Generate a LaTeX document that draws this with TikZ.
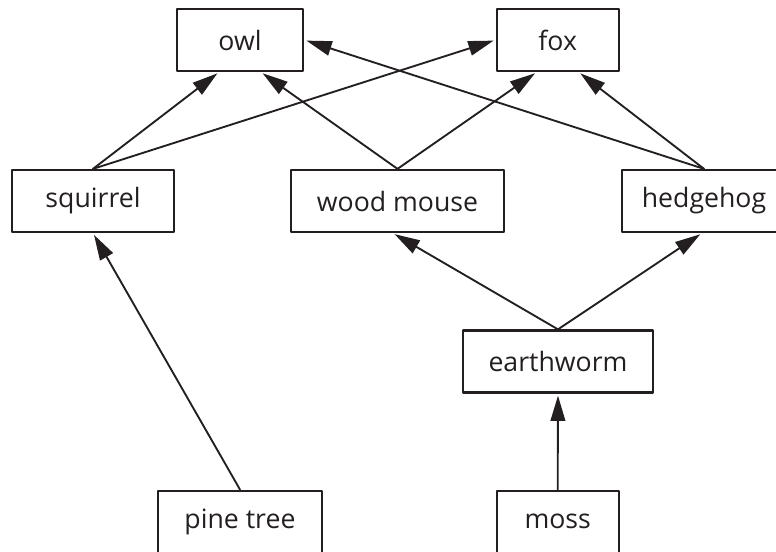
\documentclass[tikz,border=0pt]{standalone}
\usepackage{fontspec}
\setmainfont{Open Sans}
\usepackage{xcolor}
\usetikzlibrary{arrows.meta}
\definecolor{ink}{HTML}{231F20}

\begin{document}
\begin{tikzpicture}[line cap=round,line join=round,x=0.75pt,y=-0.75pt,
  box/.style={draw=ink,line width=1.7pt,text=ink,minimum height=46.5pt,inner sep=0pt,font=\fontsize{20}{24}\selectfont},
  arr/.style={draw=ink,line width=1.4pt,-{Triangle[length=19pt,width=11pt]},shorten >=1.5pt}]
\useasboundingbox (0,0) rectangle (776,551);
\clip (0,0) rectangle (776,551);
\node[box,minimum width=95pt] (owl) at (240,40) {owl};
\node[box,minimum width=91.5pt] (fox) at (557.7,40) {fox};
\node[box,minimum width=122pt] (squirrel) at (93,201) {squirrel};
\node[box,minimum width=160pt] (mouse) at (397.5,201) {wood mouse};
\node[box,minimum width=123pt] (hedgehog) at (704,201) {hedgehog};
\node[box,minimum width=143pt] (worm) at (558,361.5) {earthworm};
\node[box,minimum width=122.5pt] (pine) at (240,521.7) {pine tree};
\node[box,minimum width=91.5pt] (moss) at (557.7,521.7) {moss};
\draw[arr] (squirrel.north) -- ([xshift=-15.75pt]owl.south);
\draw[arr] (mouse.north) -- ([xshift=15.75pt]owl.south);
\draw[arr] (hedgehog.north) -- (owl.east);
\draw[arr] (squirrel.north) -- (fox.west);
\draw[arr] (mouse.north) -- ([xshift=-15.75pt]fox.south);
\draw[arr] (hedgehog.north) -- ([xshift=15.75pt]fox.south);
\draw[arr] (pine.north) -- (squirrel.south);
\draw[arr] (worm.north) -- ([xshift=-3.5pt]mouse.south);
\draw[arr] (worm.north) -- ([xshift=-1.5pt]hedgehog.south);
\draw[arr] (moss.north) -- (worm.south);
\end{tikzpicture}
\end{document}
